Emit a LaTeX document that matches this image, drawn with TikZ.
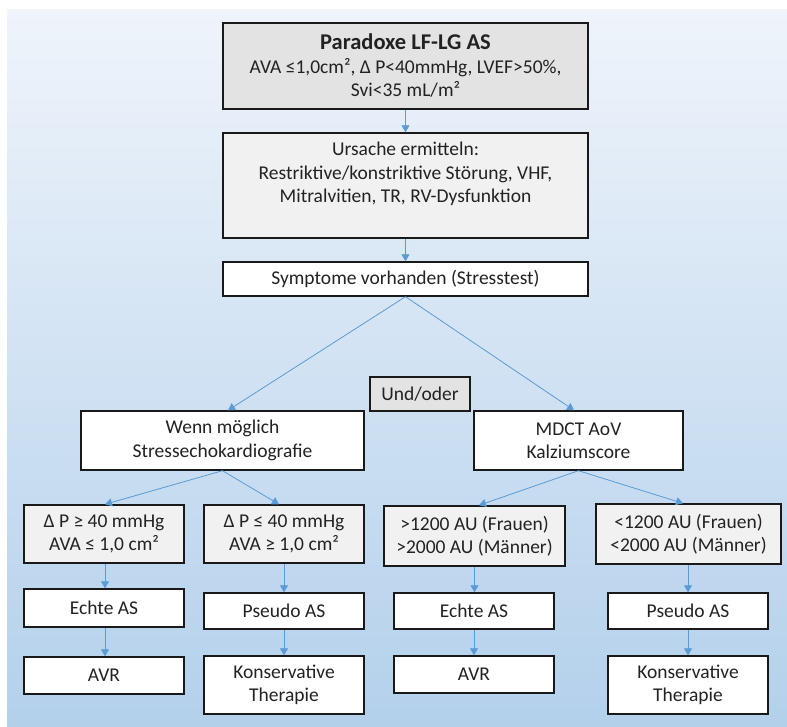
\documentclass[tikz,border=0pt]{standalone}
\usepackage{fontspec}
\setmainfont{Carlito}
\usetikzlibrary{arrows.meta}
\definecolor{bgtop}{HTML}{EFF4FB}
\definecolor{bgbot}{HTML}{B3D0EB}
\definecolor{arr}{HTML}{5B9BD5}
\definecolor{gdark}{HTML}{E3E3E3}
\definecolor{glight}{HTML}{F1F1F1}
\definecolor{txt}{HTML}{222222}
\tikzset{
  box/.style={draw=black!90, line width=1.4pt, fill=white, inner sep=0pt, align=center,
    text=txt, font=\fontsize{19.5}{23.5}\selectfont},
  gbox/.style={box, fill=glight},
  dbox/.style={box, fill=gdark},
  arrow/.style={draw=arr, line width=0.8pt, -{Triangle[width=8pt,length=7pt]}}
}
\begin{document}
\begin{tikzpicture}[x=1pt,y=-1pt]
\useasboundingbox (0,0) rectangle (787,726);
\fill[top color=bgtop, bottom color=bgbot] (7,9) rectangle (787,726);

\node[dbox, minimum width=365pt, minimum height=86pt] (top) at (405.5,66)
  {{\fontsize{22.5}{25}\selectfont\bfseries Paradoxe LF-LG AS}\\
   AVA ≤1,0cm², Δ P<40mmHg, LVEF>50\%,\\ Svi<35 mL/m²};
\node[gbox, minimum width=365pt, minimum height=105pt] (ursache) at (405.5,185.5)
  {\parbox[c][105pt][t]{360pt}{\centering\vspace{9pt}Ursache ermitteln:\\
   Restriktive/konstriktive Störung, VHF,\\ Mitralvitien, TR, RV-Dysfunktion}};
\node[box, minimum width=365pt, minimum height=34pt] (sym) at (405.5,279)
  {Symptome vorhanden (Stresstest)};
\node[dbox, minimum width=100pt, minimum height=34pt] (und) at (420,394) {Und/oder};
\node[box, minimum width=283pt, minimum height=59pt] (wenn) at (222.5,440.5)
  {Wenn möglich\\ Stressechokardiografie};
\node[box, minimum width=209pt, minimum height=59pt] (mdct) at (578.5,440.5)
  {MDCT AoV\\ Kalziumscore};

\node[gbox, minimum width=160pt, minimum height=58pt] (b1) at (104,534)
  {Δ P ≥ 40 mmHg\\ AVA ≤ 1,0 cm²};
\node[gbox, minimum width=160pt, minimum height=58pt] (b2) at (284,534)
  {Δ P ≤ 40 mmHg\\ AVA ≥ 1,0 cm²};
\node[gbox, minimum width=181pt, minimum height=60pt] (b3) at (474.5,536)
  {>1200 AU (Frauen)\\ >2000 AU (Männer)};
\node[gbox, minimum width=185pt, minimum height=60pt] (b4) at (688.5,534)
  {<1200 AU (Frauen)\\ <2000 AU (Männer)};

\node[box, minimum width=160pt, minimum height=38pt] (e1) at (104,608) {Echte AS};
\node[box, minimum width=160pt, minimum height=36pt] (p1) at (284,611) {Pseudo AS};
\node[box, minimum width=160pt, minimum height=36pt] (e2) at (474,611) {Echte AS};
\node[box, minimum width=160pt, minimum height=36pt] (p2) at (688,611) {Pseudo AS};

\node[box, minimum width=160pt, minimum height=37pt] (a1) at (104,675.5) {AVR};
\node[box, minimum width=160pt, minimum height=58pt] (k1) at (284,685) {Konservative\\ Therapie};
\node[box, minimum width=160pt, minimum height=37pt] (a2) at (474,674.5) {AVR};
\node[box, minimum width=160pt, minimum height=58pt] (k2) at (688,685) {Konservative\\ Therapie};

\draw[arrow] (top.south) -- (ursache.north);
\draw[arrow] (ursache.south) -- (sym.north);
\draw[arrow] (sym.south) -- ([xshift=5.5pt]wenn.north);
\draw[arrow] (sym.south) -- ([xshift=-4.5pt]mdct.north);
\draw[arrow] (wenn.south) -- ([xshift=1pt]b1.north);
\draw[arrow] (wenn.south) -- ([xshift=-5pt]b2.north);
\draw[arrow] (mdct.south) -- ([xshift=4.5pt]b3.north);
\draw[arrow] (mdct.south) -- ([xshift=-5.5pt]b4.north);
\draw[arrow] ([xshift=1pt]b1.south) -- ([xshift=1pt]e1.north);
\draw[arrow] ([xshift=1pt]e1.south) -- ([xshift=1pt]a1.north);
\draw[arrow] (b2.south) -- (p1.north);
\draw[arrow] (p1.south) -- (k1.north);
\draw[arrow] (b3.south) -- ([xshift=0.5pt]e2.north);
\draw[arrow] (e2.south) -- (a2.north);
\draw[arrow] ([xshift=-0.5pt]b4.south) -- (p2.north);
\draw[arrow] (p2.south) -- (k2.north);
\end{tikzpicture}
\end{document}
